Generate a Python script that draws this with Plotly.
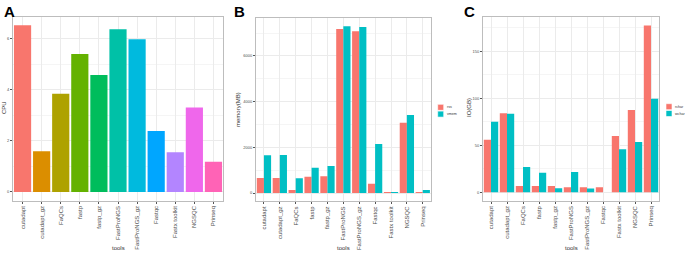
import plotly.graph_objects as go

tools = ["cutadapt", "cutadapt_gz", "FaQCs", "fastp", "fastp_gz", "FastProNGS",
         "FastProNGS_gz", "Fastqc", "Fastx toolkit", "NGSQC", "Prinseq"]
cpu = [6.54, 1.60, 3.85, 5.41, 4.59, 6.38, 5.99, 2.39, 1.56, 3.31, 1.18]
mem_rss = [656, 656, 131, 713, 730, 7177, 7077, 407, 20, 3076, 30]
mem_vmem = [1650, 1663, 643, 1107, 1181, 7295, 7265, 2144, 30, 3413, 131]
io_rchar = [55.8, 84.2, 6.7, 6.7, 6.7, 5.3, 5.3, 5.3, 60.0, 87.7, 177.6]
io_wchar = [75.0, 83.5, 27.0, 20.9, 4.2, 21.6, 3.9, 0.0, 45.8, 53.6, 99.5]
legend_mem = ["rss", "vmem"]
legend_io = ["rchar", "wchar"]

hue11 = ["#F8766D", "#DB8E00", "#AEA200", "#64B200", "#00BD5C", "#00C1A7",
         "#00BADE", "#00A6FF", "#B385FF", "#EF67EB", "#FF63B6"]
c1, c2 = "#F8766D", "#00BFC4"

W, H = 685, 253
def xd(a, b): return [a / W, b / W]
def yd(top, bot): return [1 - bot / H, 1 - top / H]
def px(x): return x / W
def py(y): return 1 - y / H

fig = go.Figure()
fig.add_trace(go.Bar(x=tools, y=cpu, marker_color=hue11, width=0.9,
                     showlegend=False, xaxis="x", yaxis="y"))
fig.add_trace(go.Bar(x=tools, y=mem_rss, name=legend_mem[0], marker_color=c1,
                     xaxis="x2", yaxis="y2", showlegend=False))
fig.add_trace(go.Bar(x=tools, y=mem_vmem, name=legend_mem[1], marker_color=c2,
                     xaxis="x2", yaxis="y2", showlegend=False))
fig.add_trace(go.Bar(x=tools, y=io_rchar, name=legend_io[0], marker_color=c1,
                     xaxis="x3", yaxis="y3", showlegend=False))
fig.add_trace(go.Bar(x=tools, y=io_wchar, name=legend_io[1], marker_color=c2,
                     xaxis="x3", yaxis="y3", showlegend=False))
fig.update_traces(marker_line_width=0)

border = "#BDBDBD"
grid = "#EBEBEB"
minor_grid = "#F5F5F5"
FAM = "Liberation Sans"
tickfont = dict(size=4, color="#4D4D4D", family=FAM)
xtickfont = dict(size=6, color="#4D4D4D", family=FAM)
titlefont = dict(size=6, color="#333", family=FAM)

def xax(dom, anchor):
    return dict(domain=dom, anchor=anchor, type="category", tickangle=-90,
                tickfont=xtickfont, showline=True, mirror=True, linecolor=border,
                linewidth=1, showgrid=True, gridcolor=grid, gridwidth=0.8,
                ticks="outside", ticklen=2, tickcolor="#555", tickwidth=0.6,
                zeroline=False, fixedrange=True, automargin=False)

def yax(dom, anchor, rng, dt):
    return dict(domain=dom, anchor=anchor, range=rng, tick0=0, dtick=dt,
                tickfont=tickfont, showline=True, mirror=True, linecolor=border,
                linewidth=1, showgrid=True, gridcolor=grid, gridwidth=0.8,
                minor=dict(dtick=dt / 2, tick0=0, showgrid=True,
                           gridcolor=minor_grid, gridwidth=0.5),
                ticks="outside", ticklen=2, tickcolor="#555", tickwidth=0.6,
                zeroline=False, fixedrange=True, automargin=False)

fig.update_layout(
    width=W, height=H, margin=dict(l=0, r=0, t=0, b=0),
    paper_bgcolor="white", plot_bgcolor="white",
    barmode="group", bargap=0.1, bargroupgap=0, showlegend=False,
    xaxis=xax(xd(13, 223), "y"),
    yaxis=yax(yd(17, 200.6), "x", [-0.34, 6.86], 2),
    xaxis2=xax(xd(256, 430.7), "y2"),
    yaxis2=yax(yd(18, 201), "x2", [-350, 7660], 2000),
    xaxis3=xax(xd(483, 659), "y3"),
    yaxis3=yax(yd(16.7, 200.7), "x3", [-9, 187], 50),
    font=dict(family=FAM),
)

# panel letters
for lab, x in [("A", 2), ("B", 232), ("C", 462)]:
    fig.add_annotation(text="<b>%s</b>" % lab, x=px(x), y=py(1), xref="paper",
                       yref="paper", xanchor="left", yanchor="top", showarrow=False,
                       font=dict(size=15, color="black", family=FAM))

# axis titles
for cx in [(13 + 223) / 2, (256 + 430.7) / 2, (483 + 659) / 2]:
    fig.add_annotation(text="tools", x=px(cx), y=py(248), xref="paper", yref="paper",
                       xanchor="center", yanchor="middle", showarrow=False,
                       font=titlefont)
for txt, x, cy in [("CPU", 4, 108), ("memory(MB)", 238, 110), ("IO(GB)", 469, 108)]:
    fig.add_annotation(text=txt, x=px(x), y=py(cy), xref="paper", yref="paper",
                       xanchor="center", yanchor="middle", showarrow=False,
                       textangle=-90, font=titlefont)

# legends
def legend(x0, y0, names):
    for i, (nm, col) in enumerate(zip(names, [c1, c2])):
        top = y0 + i * 6.8
        fig.add_shape(type="rect", xref="paper", yref="paper",
                      x0=px(x0), x1=px(x0 + 6), y0=py(top + 6), y1=py(top),
                      fillcolor=col, line=dict(width=0.6, color="white"))
        fig.add_annotation(text=nm, x=px(x0 + 7), y=py(top + 3), xref="paper",
                           yref="paper", xanchor="left", yanchor="middle",
                           showarrow=False, font=dict(size=3.6, color="#333", family=FAM))

legend(437.7, 104.3, legend_mem)
legend(666.0, 103.7, legend_io)

fig.write_html("out.html", config={"displayModeBar": False},
               post_script="document.body.style.margin='0';"
                           "document.body.style.overflow='hidden';")
